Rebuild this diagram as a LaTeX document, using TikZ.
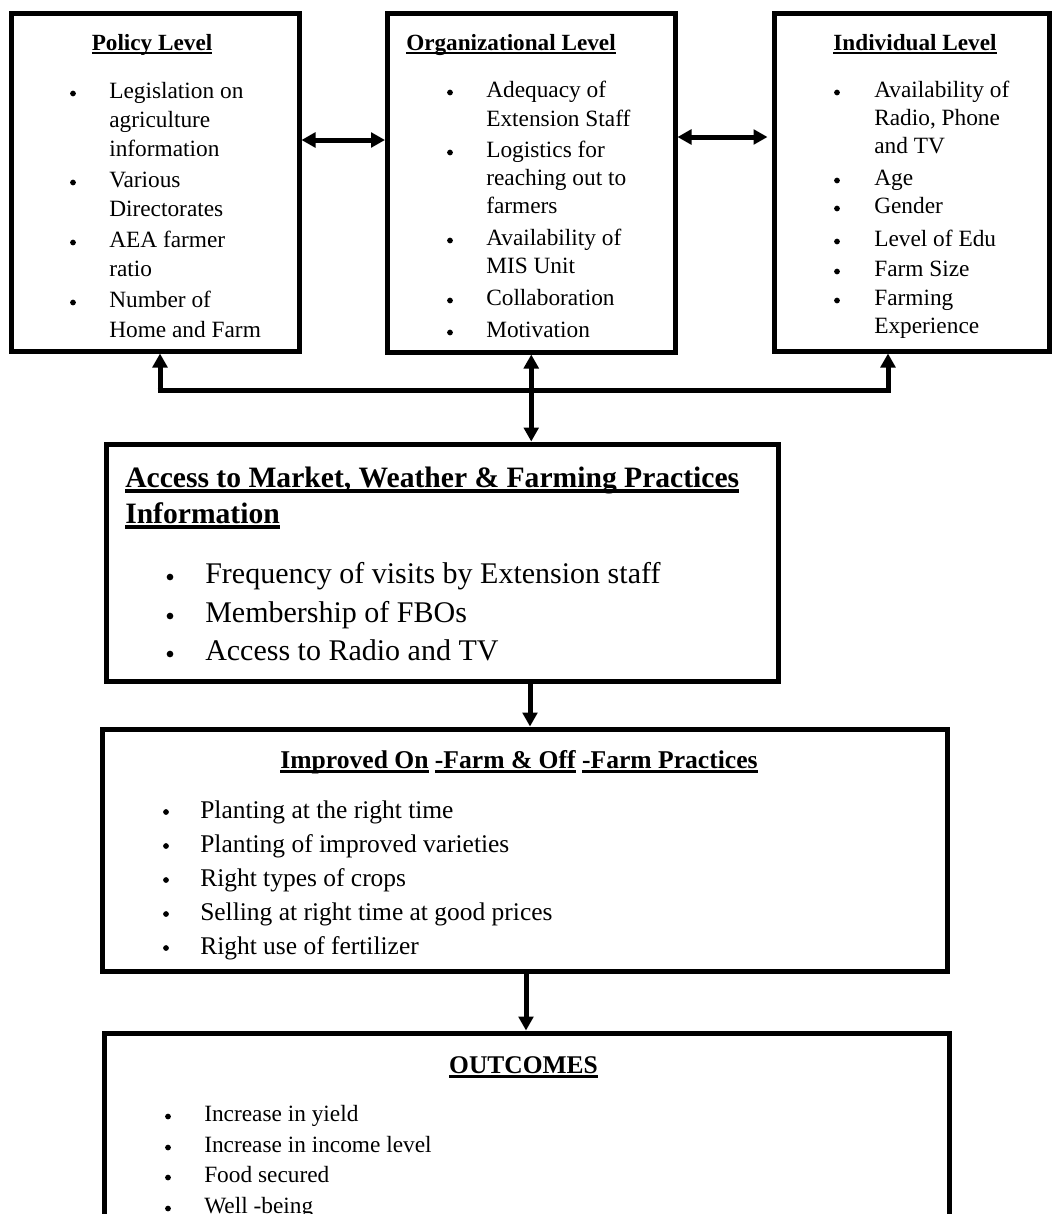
\documentclass[tikz,border=0pt]{standalone}
\usepackage{fontspec}
\setmainfont{Liberation Serif}
\usetikzlibrary{arrows.meta,fit}
\newsavebox\ulbox
\newcommand\myul[1]{\sbox\ulbox{#1}\rlap{\vrule height -0.08em depth 0.19em width \wd\ulbox}\usebox\ulbox}
\begin{document}
\begin{tikzpicture}[x=0.75pt,y=-0.75pt,
  box/.style={draw, line width=3.75pt, inner sep=0pt},
  tipA/.tip={Triangle[length=10.5pt,width=11pt]},
  arr/.style={line width=3.75pt, -tipA},
  dbl/.style={line width=3.75pt, tipA-tipA},
  plain/.style={line width=3.75pt},
  txt/.style={inner sep=0pt, anchor=base west},
  ttl/.style={inner sep=0pt, anchor=base, font=\fontsize{17.4}{21}\selectfont\bfseries},
  bul/.style={circle, fill, inner sep=0pt, minimum size=4.3pt},
  topf/.style={font=\fontsize{17.5}{21}\selectfont},
  accf/.style={font=\fontsize{22.5}{27}\selectfont},
  impf/.style={font=\fontsize{19.1}{23}\selectfont},
  outf/.style={font=\fontsize{17.5}{21}\selectfont}]
\useasboundingbox (0,0) rectangle (1052,1214);
\clip (0,0) rectangle (1052,1214);

% ---------- boxes ----------
\node[box, fit={(11,13) (299,351)}] (policy) {};
\node[box, fit={(387.5,13) (675,352)}] (org) {};
\node[box, fit={(774,13) (1049,351)}] (ind) {};
\node[box, fit={(106,444) (778,681)}] (access) {};
\node[box, fit={(102,729) (947,971)}] (improved) {};
\node[box, fit={(104,1033) (949,1260)}] (outcomes) {};

% ---------- Policy Level ----------
\node[ttl] (ptitle) at (152,50) {\myul{Policy Level}};
\foreach \yy/\bu/\tx [count=\i] in {98/1/Legislation on, 127/0/agriculture, 156/0/information,
  187/1/Various, 216/0/Directorates, 247/1/AEA farmer, 276/0/ratio,
  307/1/Number of, 337/0/Home and Farm}{
  \node[txt, topf] (pl\i) at (109,\yy) {\tx};
  \ifnum\bu=1 \node[bul] (pb\i) at (73,\yy-4.5) {}; \fi
}

% ---------- Organizational Level ----------
\node[ttl, anchor=base west] (otitle) at (406,50) {\myul{Organizational Level}};
\foreach \yy/\bu/\tx [count=\i] in {97/1/Adequacy of, 126/0/Extension Staff, 157/1/Logistics for,
  185/0/reaching out to, 213/0/farmers, 245/1/Availability of, 273/0/MIS Unit,
  305/1/Collaboration, 337/1/Motivation}{
  \node[txt, topf] (ol\i) at (486,\yy) {\tx};
  \ifnum\bu=1 \node[bul] (ob\i) at (450,\yy-4.5) {}; \fi
}

% ---------- Individual Level ----------
\node[ttl] (ititle) at (915,50) {\myul{Individual Level}};
\foreach \yy/\bu/\tx [count=\i] in {97/1/Availability of, 125/0/{Radio, Phone}, 153/0/and TV,
  185/1/Age, 213/1/Gender, 246/1/Level of Edu, 276/1/Farm Size,
  305/1/Farming, 333/0/Experience}{
  \node[txt, topf] (il\i) at (874,\yy) {\tx};
  \ifnum\bu=1 \node[bul] (ib\i) at (837,\yy-4.5) {}; \fi
}

% ---------- Access ----------
\node[txt, font=\fontsize{22.2}{27}\selectfont\bfseries] (at1) at (125,487) {\myul{Access to Market, Weather \& Farming Practices}};
\node[txt, font=\fontsize{22.2}{27}\selectfont\bfseries] (at2) at (125,523) {\myul{Information}};
\foreach \yy/\tx [count=\i] in {583/Frequency of visits by Extension staff, 622/Membership of FBOs,
  660/Access to Radio and TV}{
  \node[txt, accf] (al\i) at (205,\yy) {\tx};
  \node[bul, minimum size=5pt] (ab\i) at (170,\yy-6) {};
}

% ---------- Improved ----------
\node[ttl, font=\fontsize{19.2}{23}\selectfont\bfseries] (imtitle) at (519,768)
  {\myul{Improved On} \myul{-Farm \& Off} \myul{-Farm Practices}};
\foreach \yy/\tx [count=\i] in {818/Planting at the right time, 852/Planting of improved varieties,
  886/Right types of crops, 920/Selling at right time at good prices, 954/Right use of fertilizer}{
  \node[txt, impf] (ml\i) at (200,\yy) {\tx};
  \node[bul] (mb\i) at (166,\yy-6) {};
}

% ---------- Outcomes ----------
\node[ttl, font=\fontsize{19.1}{23}\selectfont\bfseries] (outtitle) at (523.5,1073) {\myul{OUTCOMES}};
\foreach \yy/\tx [count=\i] in {1121/Increase in yield, 1152/Increase in income level,
  1182/Food secured, 1213/Well -being}{
  \node[txt, outf] (ul\i) at (204,\yy) {\tx};
  \node[bul] (ub\i) at (168,\yy-4.5) {};
}

% ---------- connectors ----------
\coordinate (hA) at (0,140);
\coordinate (hB) at (0,137);
\draw[dbl] (policy.east |- hA) -- (org.west |- hA);
\draw[dbl, shorten >=3pt] (org.east |- hB) -- (ind.west |- hB);

\coordinate (busL) at (160,390);
\coordinate (busR) at (888,390);
\draw[plain] ([xshift=-1.875pt]busL) -- ([xshift=1.875pt]busR);
\draw[arr] ([yshift=-1.875pt]busL) -- (busL |- policy.south);
\draw[arr] ([yshift=-1.875pt]busR) -- (busR |- ind.south);
\draw[dbl] (org.south) -- (org.south |- access.north);

\coordinate (vA) at (530,0);
\coordinate (vB) at (526,0);
\draw[arr] (vA |- access.south) -- (vA |- improved.north);
\draw[arr] (vB |- improved.south) -- (vB |- outcomes.north);
\end{tikzpicture}
\end{document}
